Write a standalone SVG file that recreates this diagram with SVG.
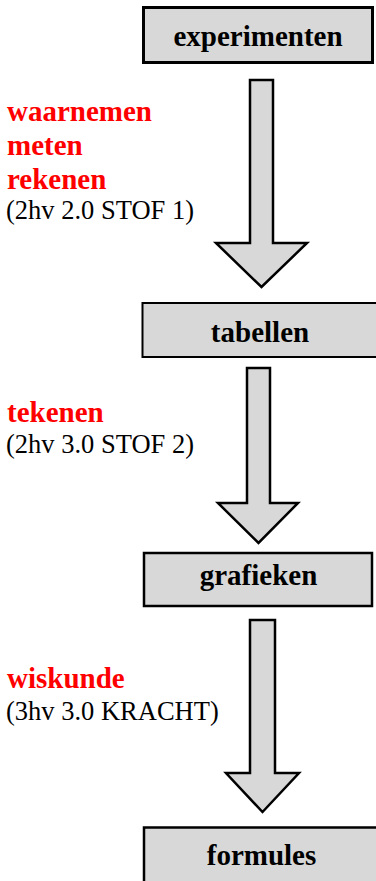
<svg xmlns="http://www.w3.org/2000/svg" width="376" height="881" viewBox="0 0 376 881">
<style>
.box{fill:#d8d8d8;stroke:#000;stroke-width:2.5}
.arr{fill:#d8d8d8;stroke:#000;stroke-width:2.5;stroke-linejoin:miter}
.nt{font-family:"Liberation Serif","Times New Roman",serif;font-weight:bold;font-size:29px;text-anchor:middle;fill:#000}
.red{font-family:"Liberation Serif","Times New Roman",serif;font-weight:bold;font-size:29px;fill:#ff0000}
.ref{font-family:"Liberation Serif","Times New Roman",serif;font-size:26.5px;fill:#000}
</style>
<rect width="376" height="881" fill="#fff"/>
<g id="connectors">
<polygon class="arr" points="250,80 273,80 273,243 307,243 261.5,287 216,243 250,243"/>
<polygon class="arr" points="247,368 270,368 270,503 298,503 258.5,543 218,503 247,503"/>
<polygon class="arr" points="250,620 275,620 275,773 299,773 262.5,812 226,773 250,773"/>
</g>
<g id="node-experimenten">
<rect class="box" x="143.5" y="7.5" width="229" height="55" style="stroke-width:3"/>
<text class="nt" x="258" y="46">experimenten</text>
</g>
<g id="node-tabellen">
<rect class="box" x="142.5" y="303" width="240" height="54" style="stroke-width:2"/>
<text class="nt" x="260" y="342">tabellen</text>
</g>
<g id="node-grafieken">
<rect class="box" x="144" y="553" width="228" height="53"/>
<text class="nt" x="258.5" y="585">grafieken</text>
</g>
<g id="node-formules">
<rect class="box" x="144" y="827.5" width="240" height="60"/>
<text class="nt" x="261.5" y="865">formules</text>
</g>
<g id="labels">
<text class="red" x="7" y="121">waarnemen</text>
<text class="red" x="7" y="155">meten</text>
<text class="red" x="7" y="189">rekenen</text>
<text class="ref" x="6" y="219">(2hv 2.0 STOF 1)</text>
<text class="red" x="7" y="422">tekenen</text>
<text class="ref" x="6" y="453">(2hv 3.0 STOF 2)</text>
<text class="red" x="7" y="688">wiskunde</text>
<text class="ref" x="6" y="720">(3hv 3.0 KRACHT)</text>
</g>
</svg>
